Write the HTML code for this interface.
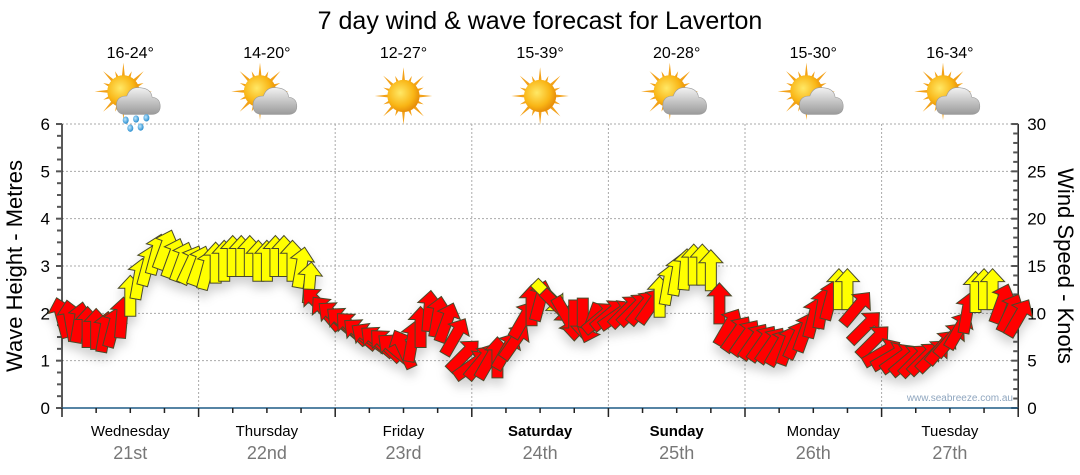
<!DOCTYPE html>
<html><head><meta charset="utf-8"><style>
html,body{margin:0;padding:0;background:#fff;width:1080px;height:475px;overflow:hidden}
svg text{font-family:"Liberation Sans","DejaVu Sans",sans-serif}
</style></head><body>
<svg id="chart" width="1080" height="475" xmlns="http://www.w3.org/2000/svg">
<defs>
<filter id="sh" x="-20%" y="-20%" width="140%" height="160%"><feDropShadow dx="0" dy="7" stdDeviation="5" flood-color="#000" flood-opacity="0.18"/></filter>
<radialGradient id="sunG" cx="0.4" cy="0.4" r="0.6"><stop offset="0" stop-color="#ffe866"/><stop offset="0.7" stop-color="#f9b515"/><stop offset="1" stop-color="#e8900a"/></radialGradient>
<linearGradient id="cloudG" x1="0" y1="0" x2="0" y2="1"><stop offset="0" stop-color="#f2f2f2"/><stop offset="1" stop-color="#9a9a9a"/></linearGradient>
<radialGradient id="dropG" cx="0.4" cy="0.4" r="0.6"><stop offset="0" stop-color="#bfe8ff"/><stop offset="1" stop-color="#2a8fd0"/></radialGradient>
</defs>
<text x="540" y="29" text-anchor="middle" font-size="25" fill="#000">7 day wind &amp; wave forecast for Laverton</text>
<g id="grid"></g>
<g id="axes"></g>
<g id="icons"></g>
<g id="arrows" filter="url(#sh)"></g>
<text transform="translate(22,266) rotate(-90)" text-anchor="middle" font-size="22" fill="#000">Wave Height - Metres</text>
<text transform="translate(1058,266) rotate(90)" text-anchor="middle" font-size="22" fill="#000">Wind Speed - Knots</text>
<text x="1013" y="401" text-anchor="end" font-size="10" fill="#8fa6bf">www.seabreeze.com.au</text>
</svg>
<script>
const dayNames = ["Wednesday","Thursday","Friday","Saturday","Sunday","Monday","Tuesday"];
const dayDates = ["21st","22nd","23rd","24th","25th","26th","27th"];
const dayBold = [false,false,false,true,true,false,false];
const tempRanges = ["16-24°","14-20°","12-27°","15-39°","20-28°","15-30°","16-34°"];
const iconTypes = ["rain","cloud","sun","sun","cloud","cloud","cloud"];
const waveTicks = [0,1,2,3,4,5,6];
const windTicks = [0,5,10,15,20,25,30];
// wind speed in knots, every 1.5 hours from Wednesday 00:00
const windSpeed = [9.5,9.2,9,8.5,8.3,8,8.5,9.5,11.8,13.6,15,16.2,16.7,15.8,15.4,15.1,
15,14.6,15.3,15.5,16,16,16,15.5,15.5,16,16,15.5,14.8,13.2,11,10,
9.6,9,8.4,7.8,7.4,7,6.6,6.2,6.2,7,8.5,10.2,9.6,9,7.5,5.5,
4.5,4.8,5,5.3,6,7,9.3,10.8,11.3,11.8,10.8,9.8,9.3,9.5,9,9.5,
9.8,9.8,10.2,10.4,10.6,10.8,11.7,13,14,14.6,15.1,15.1,14.5,11,8.5,7.8,
7.4,7,6.8,6.6,6.4,6.6,7.2,8,9.5,10.5,11.4,12.5,12.5,10.5,8.5,7,
5.8,5.4,5.2,5,5,5.2,5.5,6.4,7.2,8.2,10,12.2,12.5,12.5,11,10,9.5];
// arrow heading in degrees (0 = pointing up)
const windDir = [-15,-10,10,0,0,10,15,5,0,10,15,15,20,20,20,25,
20,15,0,0,0,0,0,0,0,0,0,0,10,5,-45,-40,
-50,-50,-45,-50,-55,-50,-45,-50,-25,10,0,5,10,20,30,45,
55,40,30,0,30,35,30,0,15,135,135,150,180,180,200,50,
50,55,45,45,40,35,0,10,10,5,0,0,0,0,30,35,
35,35,35,35,30,20,25,20,15,10,15,0,0,40,45,45,
60,60,55,50,45,45,45,40,40,30,10,0,0,0,20,25,30];

const NS="http://www.w3.org/2000/svg";
const X0=62, DAYW=136.6, Y0=408, PXM=47.33;
const xHour = h => X0 + h*DAYW/24;
const yWave = m => Y0 - m*PXM;
const yKnot = k => Y0 - k*PXM/5;
function el(tag, attrs, parent, txt){const e=document.createElementNS(NS,tag);for(const k in attrs)e.setAttribute(k,attrs[k]);if(txt!==undefined)e.textContent=txt;parent.appendChild(e);return e;}
const grid=document.getElementById('grid'), axes=document.getElementById('axes'), icons=document.getElementById('icons'), arrows=document.getElementById('arrows');
const XR = xHour(168);
waveTicks.forEach(m=>{ if(m>0){const l=el('line',{x1:X0,x2:XR,y1:yWave(m),y2:yWave(m),stroke:'#aaa','stroke-dasharray':'2,2'},grid);

}});
for(let d=1;d<7;d++){const l=el('line',{x1:xHour(d*24),x2:xHour(d*24),y1:yWave(6),y2:Y0,stroke:'#aaa','stroke-dasharray':'2,2'},grid);

}
el('line',{x1:X0,x2:X0,y1:yWave(6),y2:Y0,stroke:'#222','stroke-width':1.5},axes);
for(let i=0;i<=24;i++){const y=yWave(i/4);el('line',{x1:X0-(i%4?5:6),x2:X0,y1:y,y2:y,stroke:'#555','stroke-width':2},axes);}
waveTicks.forEach(m=>{const t=el('text',{x:X0-12,y:yWave(m)+6,'text-anchor':'end','font-size':17,fill:'#000'},axes,String(m));

});
el('line',{x1:XR,x2:XR,y1:yWave(6),y2:Y0,stroke:'#222','stroke-width':1.5},axes);
for(let k=0;k<=30;k++){const y=yKnot(k);el('line',{x1:XR-(k%5?5:7),x2:XR,y1:y,y2:y,stroke:'#555','stroke-width':2},axes);}
windTicks.forEach(k=>{const t=el('text',{x:XR+9,y:yKnot(k)+6,'text-anchor':'start','font-size':17,fill:'#000'},axes,String(k));

});
el('line',{x1:X0,x2:XR,y1:Y0,y2:Y0,stroke:'#1f5b86','stroke-width':1.5},axes);
for(let h=0;h<=168;h+=6){const x=xHour(h);el('line',{x1:x,x2:x,y1:Y0,y2:Y0+(h%24?5:9),stroke:'#222','stroke-width':1.5},axes);}
dayNames.forEach((n,d)=>{const cx=xHour(d*24+12);
const t=el('text',{x:cx,y:436,'text-anchor':'middle','font-size':15,fill:'#000','font-weight':dayBold[d]?'bold':'normal'},axes,n);


const t2=el('text',{x:cx,y:459,'text-anchor':'middle','font-size':18,fill:'#777'},axes,dayDates[d]);


const t3=el('text',{x:cx,y:58,'text-anchor':'middle','font-size':16,fill:'#000'},icons,tempRanges[d]);


const g=el('g',{transform:`translate(${cx},${96}) scale(1.15)`},icons);


const type=iconTypes[d]; const sx = type==='sun'?0:-6, sy = type==='sun'?0:-4;
let rays='';for(let r=0;r<16;r++){const a=r*Math.PI/8, L=r%2?19:25;rays+=`M${sx+Math.cos(a-0.12)*12},${sy+Math.sin(a-0.12)*12} L${sx+Math.cos(a)*L},${sy+Math.sin(a)*L} L${sx+Math.cos(a+0.12)*12},${sy+Math.sin(a+0.12)*12} Z `;}
el('path',{d:rays,fill:'#f3a21a'},g);
el('circle',{cx:sx,cy:sy,r:14,fill:'url(#sunG)'},g);
if(type!=='sun'){
 el('path',{d:'M-4,16 Q-12,16 -12,8 Q-12,0 -3,0 Q0,-9 10,-7 Q18,-6 19,1 Q26,2 26,9 Q26,16 18,16 Z',fill:'url(#cloudG)',stroke:'#999','stroke-width':0.5},g);
 if(type==='rain'){[[-4,21],[5,20],[14,19],[0,28],[9,27]].forEach(p=>el('ellipse',{cx:p[0],cy:p[1],rx:2.6,ry:3.2,fill:'url(#dropG)'},g));}
}
});
windSpeed.forEach((k,i)=>{
 const x=xHour(i*1.5), y=yKnot(k);
 const p=el('path',{d:'M0,-21 L12,-8 L5.5,-8 L5.5,20 L-5.5,20 L-5.5,-8 L-12,-8 Z',transform:`translate(${x},${y}) rotate(${windDir[i]})`,fill:k>=11.5?'#ffff00':'#ff0000',stroke:'#4a4a2a','stroke-width':1,'stroke-linejoin':'miter'},arrows);
 
 
});
</script>
</body></html>
